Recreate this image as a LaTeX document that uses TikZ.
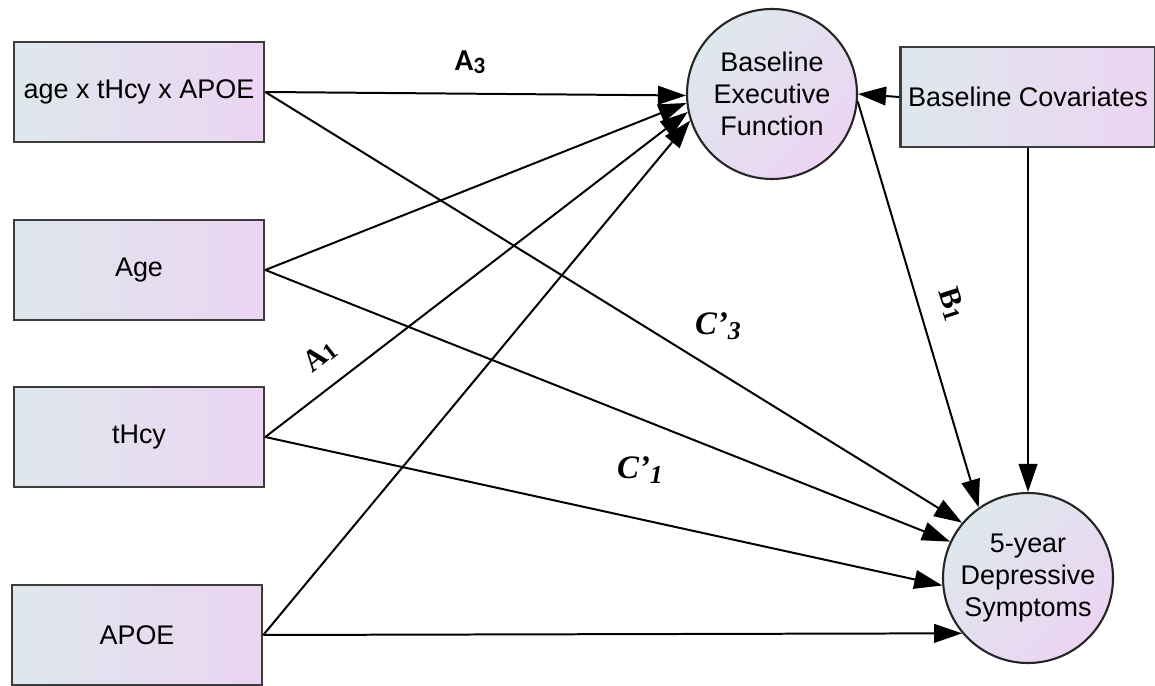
\documentclass[tikz,border=0pt]{standalone}
\usepackage{fontspec}
\usepackage{tikz}
\usetikzlibrary{arrows.meta}
\setmainfont{Liberation Sans}
\newfontfamily\labelsans{Carlito}
\newfontfamily\labelserif{Liberation Serif}
\definecolor{shadeblue}{RGB}{222,232,236}
\definecolor{shadelilac}{RGB}{236,212,243}
\definecolor{edgegray}{RGB}{60,60,60}

\begin{document}
\begin{tikzpicture}[
    x=0.015cm, y=-0.015cm,
    obs/.style={draw=edgegray, line width=1.1pt, left color=shadeblue, right color=shadelilac, minimum width=3.75cm, minimum height=1.5cm, text centered, align=center, font=\fontsize{11.5}{13.5}\selectfont},
    lat/.style={circle, draw=black!85, line width=0.9pt, left color=shadeblue, right color=shadelilac, shading angle=45, minimum size=2.55cm, inner sep=0pt, align=center, font=\fontsize{11.5}{13.5}\selectfont},
    pth/.style={line width=0.85pt, -{Triangle[length=0.42cm, width=0.28cm]}},
    coef/.style={font=\labelserif\bfseries\fontsize{13}{15}\selectfont}
]
\useasboundingbox (0,0) rectangle (1155,686);

\node[obs] (intx) at (139,92) {age x tHcy x APOE};
\node[obs] (age) at (139,270) {Age};
\node[obs] (thcy) at (139,437) {tHcy};
\node[obs] (apoe) at (137,635) {APOE};
\node[obs] (cov) at (1028,97) {Baseline Covariates};

\node[lat] (bef) at (772,94) {Baseline\\Executive\\Function};
\node[lat] (dep) at (1028,578) {5-year\\Depressive\\Symptoms};

\draw[pth] (intx.east) -- (bef.181);
\draw[pth] (age.east) -- (bef.186);
\draw[pth] (thcy.east) -- (bef.192);
\draw[pth] (apoe.east) -- (bef.198);
\draw[pth] (intx.east) -- (dep.140);
\draw[pth] (age.east) -- (dep.155);
\draw[pth] (thcy.east) -- (dep.185);
\draw[pth] (apoe.east) -- (dep.220);
\draw[pth] (bef.-5) -- (dep.125);
\draw[pth] (cov.west) -- (bef.east);
\draw[pth] (cov.south) -- (dep.north);

\node[font=\labelsans\bfseries\fontsize{13}{15}\selectfont] (a3) at (470,62) {A{\fontsize{10}{12}\selectfont\raisebox{-0.3ex}{3}}};
\node[coef, rotate=38] (a1) at (320,356) {A{\fontsize{10}{12}\selectfont\raisebox{-0.2ex}{1}}};
\node[coef, rotate=-72] (b1) at (952,304) {B{\fontsize{10}{12}\selectfont\raisebox{-0.2ex}{1}}};
\node[coef, font=\labelserif\bfseries\itshape\fontsize{14}{16}\selectfont] (c3) at (718,326) {C’{\fontsize{11}{12}\selectfont\raisebox{-0.4ex}{3}}};
\node[coef, font=\labelserif\bfseries\itshape\fontsize{14}{16}\selectfont] (c1) at (640,470) {C’{\fontsize{11}{12}\selectfont\raisebox{-0.4ex}{1}}};

\end{tikzpicture}
\end{document}
